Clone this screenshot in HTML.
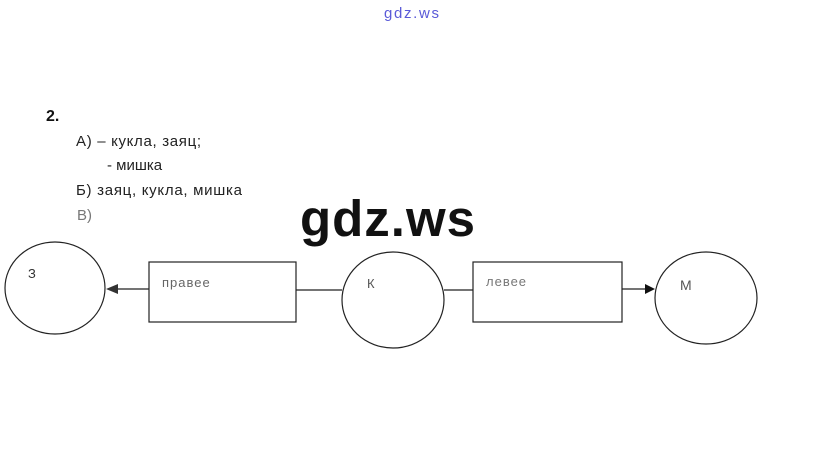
<!DOCTYPE html>
<html><head><meta charset="utf-8"><style>
html,body{margin:0;padding:0;background:#fff;width:823px;height:451px;overflow:hidden}
</style></head><body>
<svg width="823" height="451" xmlns="http://www.w3.org/2000/svg" font-family="Liberation Sans, DejaVu Sans, sans-serif">
<text x="384" y="18" font-size="15" fill="#5a5ad8" textLength="55">gdz.ws</text>
<text x="46" y="121" font-size="16" font-weight="bold" fill="#111">2.</text>
<text x="76" y="146" font-size="15" fill="#222" textLength="125">А) – кукла, заяц;</text>
<text x="107" y="170" font-size="15" fill="#222">- мишка</text>
<text x="76" y="195" font-size="15" fill="#222" textLength="166">Б) заяц, кукла, мишка</text>
<text x="77" y="220" font-size="15" fill="#777">В)</text>
<text x="300" y="236" font-size="51" font-weight="bold" fill="#111" textLength="175">gdz.ws</text>
<g fill="none" stroke="#222" stroke-width="1.2">
<ellipse cx="55" cy="288" rx="50" ry="46"/>
<rect x="149" y="262" width="147" height="60"/>
<ellipse cx="393" cy="300" rx="51" ry="48"/>
<rect x="473" y="262" width="149" height="60"/>
<ellipse cx="706" cy="298" rx="51" ry="46"/>
<line x1="118" y1="289" x2="149" y2="289"/>
<line x1="296" y1="290" x2="342" y2="290"/>
<line x1="444" y1="290" x2="473" y2="290"/>
<line x1="622" y1="289" x2="645" y2="289"/>
</g>
<polygon points="106,289 118,284 118,294" fill="#333"/>
<polygon points="655,289 645,284 645,294" fill="#111"/>
<text x="28" y="278" font-size="13" fill="#333">З</text>
<text x="162" y="287" font-size="13" fill="#666" letter-spacing="1">правее</text>
<text x="367" y="288" font-size="13" fill="#555">К</text>
<text x="486" y="286" font-size="13" fill="#777" letter-spacing="1">левее</text>
<text x="680" y="290" font-size="14" fill="#555">М</text>
</svg>
</body></html>
